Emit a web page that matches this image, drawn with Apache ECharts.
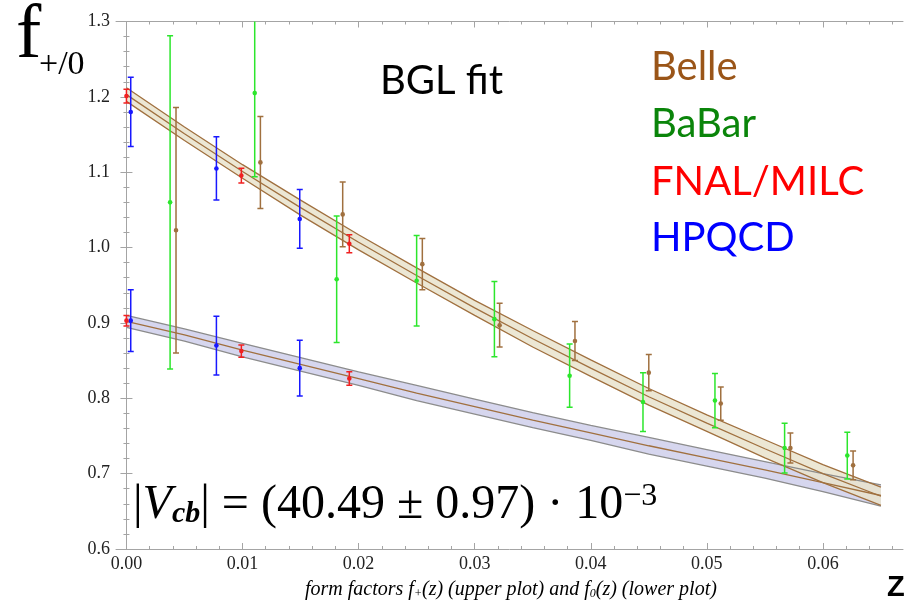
<!DOCTYPE html>
<html><head><meta charset="utf-8">
<script src="https://cdn.jsdelivr.net/npm/echarts@6/dist/echarts.min.js"></script>
<style>html,body{margin:0;padding:0;background:#fff}#c{width:906px;height:603px}</style>
</head><body><div id="c"></div>
<script>
// ---- fit curves (read at z steps of 0.005) ----
const curveZ      = [0,0.005,0.010,0.015,0.020,0.025,0.030,0.035,0.040,0.045,0.050,0.055,0.060,0.065];
const fPlusCenter = [1.203,1.151,1.101,1.053,1.007,0.963,0.920,0.879,0.840,0.802,0.767,0.733,0.700,0.670];
const fPlusUpper  = [1.212,1.160,1.110,1.063,1.017,0.973,0.930,0.890,0.851,0.813,0.778,0.745,0.712,0.682];
const fPlusLower  = [1.194,1.142,1.092,1.043,0.997,0.953,0.910,0.868,0.829,0.791,0.756,0.721,0.688,0.658];
const fZeroCenter = [0.902,0.884,0.864,0.845,0.826,0.807,0.789,0.771,0.754,0.737,0.721,0.705,0.688,0.671];
const fZeroUpper  = [0.910,0.892,0.873,0.854,0.835,0.817,0.799,0.781,0.764,0.748,0.732,0.716,0.700,0.685];
const fZeroLower  = [0.894,0.876,0.855,0.836,0.817,0.797,0.779,0.761,0.744,0.726,0.710,0.694,0.676,0.657];

// ---- experimental data (f+) ----
const belleZ   = [0.00427,0.01154,0.01863,0.02549,0.03215,0.03864,0.0450,0.0512,0.0572,0.0626];
const belleF   = [1.023,1.113,1.044,0.978,0.897,0.876,0.834,0.793,0.734,0.711];
const belleErr = [0.163,0.061,0.043,0.034,0.029,0.026,0.024,0.022,0.020,0.019];
const babarZ   = [0.00376,0.01105,0.01811,0.0250,0.0317,0.03818,0.0445,0.0507,0.0567,0.0621];
const babarF   = [1.060,1.205,0.958,0.956,0.905,0.830,0.795,0.797,0.734,0.724];
const babarErr = [0.221,0.111,0.084,0.060,0.050,0.042,0.039,0.036,0.033,0.031];

// ---- lattice data ----
const fnalZ        = [0.0000,0.0099,0.0192];
const fnalFplus    = [1.201,1.0955,1.005];
const fnalFplusErr = [0.009,0.0097,0.012];
const fnalFzero    = [0.903,0.8626,0.8263];
const fnalFzeroErr = [0.007,0.008,0.009];
const hpqcdZ        = [0.00037,0.00775,0.01493];
const hpqcdFplus    = [1.180,1.105,1.038];
const hpqcdFplusErr = [0.046,0.042,0.039];
const hpqcdFzero    = [0.903,0.870,0.840];
const hpqcdFzeroErr = [0.041,0.039,0.037];

// ---- axes ----
const xMin = -0.0009, xMax = 0.0669, yMin = 0.6, yMax = 1.3;
const xTickValues = [0,0.01,0.02,0.03,0.04,0.05,0.06];
const xMinorValues = [0,0.002,0.004,0.006,0.008,0.010,0.012,0.014,0.016,0.018,0.020,0.022,0.024,0.026,0.028,0.030,0.032,0.034,0.036,0.038,0.040,0.042,0.044,0.046,0.048,0.050,0.052,0.054,0.056,0.058,0.060,0.062,0.064,0.066];
const yTickValues = [0.6,0.7,0.8,0.9,1.0,1.1,1.2,1.3];
const yMinorValues = [0.62,0.64,0.66,0.68,0.72,0.74,0.76,0.78,0.82,0.84,0.86,0.88,0.92,0.94,0.96,0.98,1.02,1.04,1.06,1.08,1.12,1.14,1.16,1.18,1.22,1.24,1.26,1.28];

const legendNames  = ['Belle','BaBar','FNAL/MILC','HPQCD'];
const legendColors = ['#9a5518','#0a850a','#ff0000','#0000ff'];
const barColors = {belle:'#a0703f', babar:'#2ce62c', fnal:'#f02020', hpqcd:'#1818ff'};

const zip = (a,b)=>a.map((v,i)=>[v,b[i]]);
const zip3 = (a,b,c)=>a.map((v,i)=>[v,b[i],c[i]]);

function bandSeries(upper, lower, fill, opacity){
  return {
    type:'custom', silent:true, clip:true, z:1,
    data:[[0,0]],
    renderItem:function(params, api){
      const pts=[];
      for(let i=0;i<curveZ.length;i++) pts.push(api.coord([curveZ[i], upper[i]]));
      for(let i=curveZ.length-1;i>=0;i--) pts.push(api.coord([curveZ[i], lower[i]]));
      return {type:'polygon', shape:{points:pts}, style:{fill:fill, opacity:opacity}};
    }
  };
}
function lineSeries(vals, color, w, z){
  return {type:'line', data:zip(curveZ, vals), showSymbol:false, silent:true, z:z,
    lineStyle:{color:color, width:w}, animation:false};
}
function errSeries(z, v, e, color){
  return {
    type:'custom', clip:true, z:5, silent:true,
    data:zip3(z, v, e),
    renderItem:function(params, api){
      const zz=api.value(0), vv=api.value(1), ee=api.value(2);
      const t=api.coord([zz, vv+ee]), b=api.coord([zz, vv-ee]), c=api.coord([zz, vv]);
      const st={stroke:color, lineWidth:1.5};
      return {type:'group', children:[
        {type:'line', shape:{x1:t[0],y1:t[1],x2:b[0],y2:b[1]}, style:st},
        {type:'line', shape:{x1:t[0]-3,y1:t[1],x2:t[0]+3,y2:t[1]}, style:st},
        {type:'line', shape:{x1:b[0]-3,y1:b[1],x2:b[0]+3,y2:b[1]}, style:st},
        {type:'circle', shape:{cx:c[0],cy:c[1],r:2.3}, style:{fill:color}}
      ]};
    }
  };
}

const axisColor = '#a4a4a4';
const labelFont = {fontFamily:'"Liberation Serif", serif', fontSize:18, color:'#222'};
function xAx(pos, values, len, showLine, showLabel){
  return {type:'value', position:pos, min:xMin, max:xMax, splitLine:{show:false},
    axisLine:{show:showLine, lineStyle:{color:axisColor, width:1}},
    axisTick:{show:true, inside:true, length:len, customValues:values, lineStyle:{color:axisColor}},
    axisLabel:Object.assign({show:showLabel, customValues:xTickValues, margin:6,
      formatter:(v)=>v.toFixed(2)}, labelFont)};
}
function yAx(pos, values, len, showLine, showLabel){
  return {type:'value', position:pos, min:yMin, max:yMax, splitLine:{show:false},
    axisLine:{show:showLine, lineStyle:{color:axisColor, width:1}},
    axisTick:{show:true, inside:true, length:len, customValues:values, lineStyle:{color:axisColor}},
    axisLabel:Object.assign({show:showLabel, customValues:yTickValues, margin:6,
      formatter:(v)=>v.toFixed(1)}, labelFont)};
}

const graphics = [
  {type:'text', x:16, y:37, style:{text:'f', font:'76px "Liberation Serif"', fill:'#000', verticalAlign:'middle'}},
  {type:'text', x:39, y:65, style:{text:'+/0', font:'34px "Liberation Serif"', fill:'#000', verticalAlign:'middle'}},
  {type:'text', x:380, y:81, style:{text:'BGL fit', font:'40px Lato', fill:'#000', verticalAlign:'middle'}},
  {type:'text', x:887, y:588, style:{text:'Z', font:'bold 29px "Liberation Sans"', fill:'#000', verticalAlign:'middle'}},
  {type:'text', x:133, y:505, style:{
    text:'|{v|V}{s|cb}| = (40.49 ± 0.97) · 10{p|−3}',
    font:'48px "Liberation Serif"', fill:'#000', verticalAlign:'middle',
    rich:{
      v:{fontFamily:'"Liberation Serif"', fontStyle:'italic', fontSize:48},
      s:{fontFamily:'"Liberation Serif"', fontStyle:'italic', fontWeight:'bold', fontSize:30, verticalAlign:'bottom'},
      p:{fontFamily:'"Liberation Serif"', fontSize:32, verticalAlign:'top'}
    }}},
  {type:'text', x:305, y:590, style:{
    text:'form factors f{s|+}(z) (upper plot) and f{s|0}(z) (lower plot)',
    font:'italic 20px "Liberation Serif"', fill:'#000', verticalAlign:'middle',
    rich:{s:{fontFamily:'"Liberation Serif"', fontStyle:'italic', fontSize:12, verticalAlign:'bottom'}}}}
];
const legendY = [67,124,182,238];
legendNames.forEach((n,i)=>{
  graphics.push({type:'text', x:651, y:legendY[i], style:{text:n, font:'40px Lato', fill:legendColors[i], verticalAlign:'middle'}});
});

const chart = echarts.init(document.getElementById('c'), null, {renderer:'canvas'});
chart.setOption({
  animation:false,
  backgroundColor:'#fff',
  grid:{left:116, right:3, top:21.5, bottom:54, containLabel:false, outerBoundsMode:'none'},
  xAxis:[ xAx('bottom', xTickValues, 6, true, true), xAx('bottom', xMinorValues, 3, false, false),
          xAx('top', xTickValues, 6, true, false), xAx('top', xMinorValues, 3, false, false) ],
  yAxis:[ yAx('left', yTickValues, 6, true, true), yAx('left', yMinorValues, 3, false, false),
          yAx('right', yTickValues, 6, true, false), yAx('right', yMinorValues, 3, false, false) ],
  graphic:graphics,
  series:[
    bandSeries(fZeroUpper, fZeroLower, '#d6d6ee', 1),
    lineSeries(fZeroUpper, '#8c8c8c', 1.3, 2),
    lineSeries(fZeroLower, '#8c8c8c', 1.3, 2),
    lineSeries(fZeroCenter, '#a0703f', 1.3, 2),
    bandSeries(fPlusUpper, fPlusLower, '#e9e3cd', 0.85),
    lineSeries(fPlusUpper, '#a0703f', 1.3, 3),
    lineSeries(fPlusLower, '#a0703f', 1.3, 3),
    lineSeries(fPlusCenter, '#a0703f', 1.3, 3),
    errSeries(babarZ, babarF, babarErr, barColors.babar),
    errSeries(belleZ, belleF, belleErr, barColors.belle),
    errSeries(hpqcdZ, hpqcdFplus, hpqcdFplusErr, barColors.hpqcd),
    errSeries(hpqcdZ, hpqcdFzero, hpqcdFzeroErr, barColors.hpqcd),
    errSeries(fnalZ, fnalFplus, fnalFplusErr, barColors.fnal),
    errSeries(fnalZ, fnalFzero, fnalFzeroErr, barColors.fnal)
  ]
});
</script></body></html>
